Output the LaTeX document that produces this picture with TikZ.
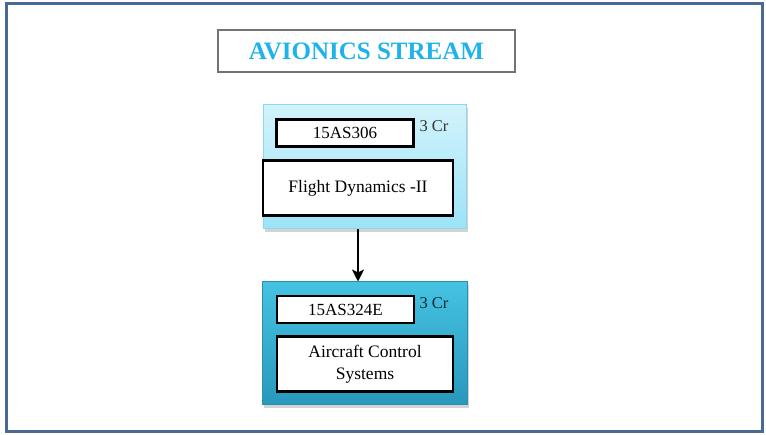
\documentclass[tikz,border=0pt]{standalone}
\usepackage{fontspec}
\setmainfont{Liberation Serif}
\usetikzlibrary{arrows.meta,shadows}

\definecolor{framecol}{HTML}{4A6A96}
\definecolor{titlecol}{HTML}{1DB3EB}
\definecolor{lighttop}{HTML}{D2F3FC}
\definecolor{lightbot}{HTML}{9CE3F7}
\definecolor{lightedge}{HTML}{8CD6EE}
\definecolor{darktop}{HTML}{45C2E2}
\definecolor{darkbot}{HTML}{2898BC}
\definecolor{darkedge}{HTML}{2A8FB0}

\begin{document}
\begin{tikzpicture}[x=1pt, y=-1pt, >={Stealth[length=12pt, width=12pt, inset=3pt]},
    course/.style={rectangle, minimum width=#1, inner sep=0pt,
        drop shadow={shadow xshift=2pt, shadow yshift=-3pt, opacity=0.35}},
    codebox/.style={rectangle, draw=black, line width=2.6pt, fill=white,
        minimum width=137pt, minimum height=27pt, inner sep=0pt,
        font=\fontsize{17}{20}\selectfont},
    namebox/.style={rectangle, draw=black, line width=2.6pt, fill=white,
        minimum width=#1, minimum height=55pt, inner sep=0pt, align=center,
        font=\fontsize{17.5}{22}\selectfont},
    credit/.style={font=\fontsize{16.5}{18}\selectfont, text=black!80}]
    \useasboundingbox (0,0) rectangle (766,435);

    % Outer frame
    \draw [framecol, line width=3pt] (6,4) rectangle (762,432);

    % Stream title
    \node (stream) [rectangle, draw=black!55, line width=1.2pt,
        minimum width=297pt, minimum height=42pt,
        font=\fontsize{25}{28}\selectfont\bfseries, text=titlecol]
        at (366.5,51) {AVIONICS STREAM};

    % First course block
    \node (fd) [course=203pt, minimum height=124pt, draw=lightedge, line width=1pt,
        top color=lighttop, bottom color=lightbot] at (364.5,167) {};
    \node (fdcode) [codebox] at (345,133) {15AS306};
    \node (fdcr) [credit] at (434,126) {3 Cr};
    \node (fdname) [namebox=190pt] at (358,188) {Flight Dynamics -II};

    % Second course block
    \node (acs) [course=205pt, minimum height=123pt, draw=darkedge, line width=1pt,
        top color=darktop, bottom color=darkbot] at (364.5,343.5) {};
    \node (acscode) [codebox] at (345.5,309.5) {15AS324E};
    \node (acscr) [credit, text=black!75!darkbot] at (434,303) {3 Cr};
    \node (acsname) [namebox=176pt] at (365,364) {Aircraft Control\\Systems};

    % Prerequisite arrow
    \draw [->, line width=1.8pt] (fdname |- fd.south) -- (fdname |- acs.north);
\end{tikzpicture}
\end{document}
